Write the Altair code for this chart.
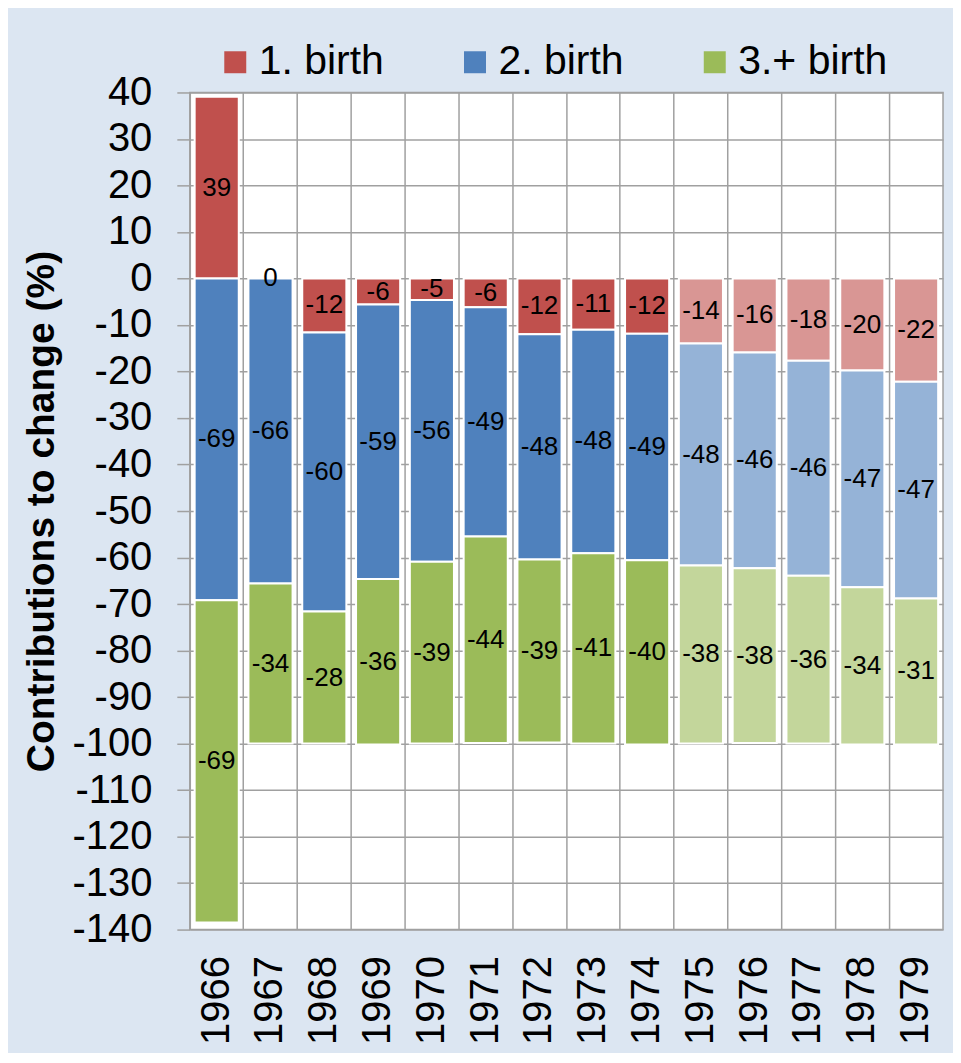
import altair as alt
import pandas as pd

years = [str(y) for y in range(1966, 1980)]
series_names = ["1. birth", "2. birth", "3.+ birth"]
first_birth = [39.1, 0.4, -11.6, -5.6, -4.6, -6.2, -12.0, -11.0, -11.9, -14.0, -15.9, -17.7, -19.8, -22.2]
second_birth = [-69.2, -65.6, -60.0, -59.0, -56.3, -49.3, -48.4, -48.1, -48.7, -47.7, -46.4, -46.2, -46.6, -46.6]
third_birth = [-69.3, -34.4, -28.4, -35.6, -39.1, -44.4, -39.4, -40.9, -39.6, -38.3, -37.6, -36.1, -33.8, -31.4]
projected_from = 1975

dark_colors = ["#c0504d", "#4f81bd", "#9bbb59"]
light_colors = ["#d99694", "#95b3d7", "#c3d69b"]

rows = []
for i, y in enumerate(years):
    for k, (name, vals) in enumerate(zip(series_names, [first_birth, second_birth, third_birth])):
        proj = int(y) >= projected_from
        rows.append({
            "year": y,
            "series": name,
            "value": vals[i],
            "order": k,
            "key": name + (" (proj)" if proj else ""),
        })
df = pd.DataFrame(rows)

domain = series_names + [n + " (proj)" for n in series_names]
color_range = dark_colors + light_colors

FONT = "Liberation Sans"

base = alt.Chart(df).transform_stack(
    stack="value", groupby=["year"], as_=["v0", "v1"], sort=[alt.SortField("order")]
).transform_calculate(
    mid="(datum.v0 + datum.v1) / 2",
    lbl="'' + round(datum.value)",
)

x_enc = alt.X(
    "year:N",
    sort=years,
    scale=alt.Scale(paddingInner=0, paddingOuter=0),
    axis=alt.Axis(
        title=None, labelAngle=270, labelFontSize=40, labelFont=FONT, labelColor="#000000",
        labelPadding=26, ticks=False, domain=False, grid=True, bandPosition=0,
        gridColor="#a0a0a0", gridWidth=1.5,
    ),
)

bars = base.mark_bar(width={"band": 0.82}, stroke="white", strokeWidth=2).encode(
    x=x_enc,
    y=alt.Y(
        "v0:Q",
        scale=alt.Scale(domain=[-140, 40], nice=False, zero=False),
        axis=alt.Axis(
            title="Contributions to change (%)", titleFontSize=39, titleFont=FONT,
            titleFontWeight="bold", titleColor="#000000", titlePadding=10,
            values=list(range(-140, 41, 10)), labelFontSize=40, labelFont=FONT,
            labelColor="#000000", labelPadding=25, tickSize=13, tickColor="#a0a0a0",
            tickWidth=1.5, domain=False, gridColor="#a0a0a0", gridWidth=1.5, labelLimit=300,
            labelExpr="'' + datum.value",
        ),
    ),
    y2="v1:Q",
    color=alt.Color(
        "key:N",
        scale=alt.Scale(domain=domain, range=color_range),
        legend=alt.Legend(
            values=series_names, title=None, orient="none", direction="horizontal",
            legendX=25, legendY=-51, symbolType="square", symbolSize=484,
            symbolStrokeWidth=0, labelFontSize=41, labelFont=FONT, labelColor="#000000",
            labelOffset=3, columnPadding=70, labelLimit=300,
        ),
    ),
)

labels = base.mark_text(fontSize=26, font=FONT, color="#000000").encode(
    x=alt.X("year:N", sort=years),
    y=alt.Y("mid:Q"),
    text=alt.Text("lbl:N"),
)

chart = alt.layer(bars, labels).properties(
    width=754, height=838, background="#dce6f2",
    padding={"left": 14, "top": 33, "right": 10, "bottom": 8},
).configure_view(stroke="#a0a0a0", strokeWidth=1.5, fill="white")

chart.save("out.html", embed_options={"renderer": "svg", "actions": False})
